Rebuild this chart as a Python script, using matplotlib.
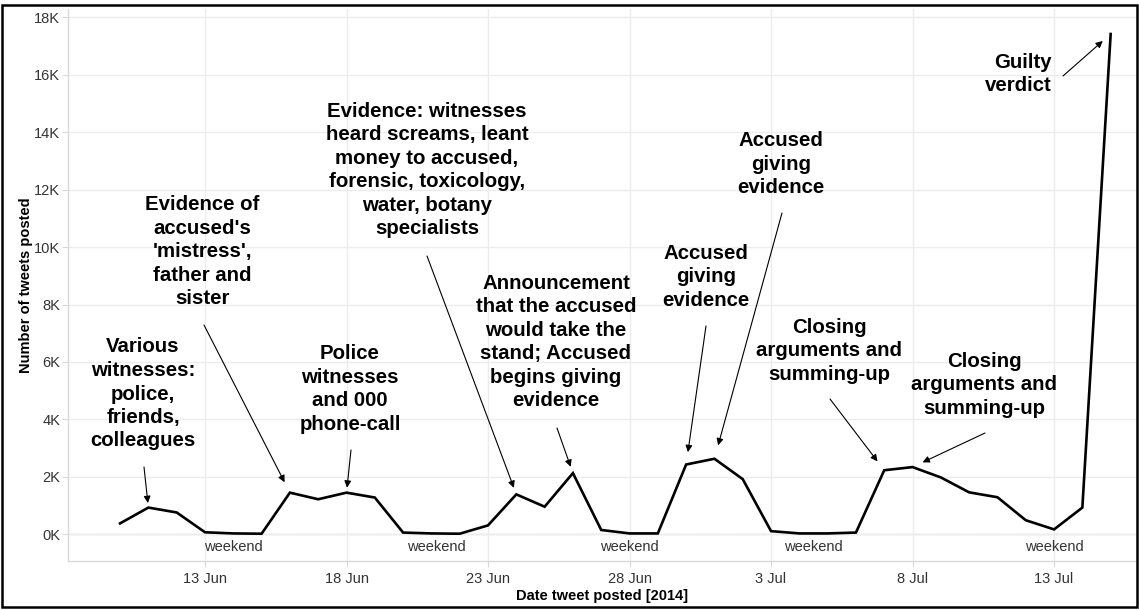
import numpy as np
import pandas as pd
import matplotlib
matplotlib.use('Agg')
import matplotlib.pyplot as plt
import matplotlib.dates as mdates
from matplotlib.patches import Rectangle
from matplotlib.ticker import FuncFormatter, MultipleLocator

plt.rcParams['font.family'] = ['Liberation Sans', 'DejaVu Sans']

# daily tweet counts, 10 Jun 2014 - 15 Jul 2014
start_date = '2014-06-10'
tweets = [380, 930, 760, 70, 30, 20, 1450, 1220, 1450, 1280,
          60, 30, 20, 310, 1390, 960, 2130, 150, 30, 30,
          2430, 2630, 1920, 110, 30, 30, 60, 2230, 2340, 1980,
          1460, 1290, 490, 170, 930, 17420]
dates = pd.date_range(start_date, periods=len(tweets), freq='D')

tick_dates = pd.date_range('2014-06-13', '2014-07-13', freq='5D')
tick_labels = [f"{d.day} {d.strftime('%b')}" for d in tick_dates]

weekend_dates = pd.to_datetime(['2014-06-14 00:00', '2014-06-21 04:00', '2014-06-28 00:00',
                                '2014-07-04 12:00', '2014-07-13 00:00'])

# (text, text centre in px, arrow start in px, target date, gap in pt)
notes = [
    ("Various\nwitnesses:\npolice,\nfriends,\ncolleagues", (143, 394), (144, 467), '2014-06-11', 3.3),
    ("Evidence of\naccused's\n'mistress',\nfather and\nsister", (202, 252), (204, 325), '2014-06-16', 8.4),
    ("Police\nwitnesses\nand 000\nphone-call", (350, 389), (351, 450), '2014-06-18', 3.6),
    ("Evidence: witnesses\nheard screams, leant\nmoney to accused,\nforensic, toxicology,\nwater, botany\nspecialists",
     (427, 170), (427, 256), '2014-06-24', 5),
    ("Announcement\nthat the accused\nwould take the\nstand; Accused\nbegins giving\nevidence",
     (556, 342), (557, 428), '2014-06-26', 4.8),
    ("Accused\ngiving\nevidence", (706, 277), (706, 326), '2014-06-30', 9),
    ("Accused\ngiving\nevidence", (781, 164), (782, 213), '2014-07-01', 10),
    ("Closing\narguments and\nsumming-up", (829, 351), (830, 399), '2014-07-07', 8),
    ("Closing\narguments and\nsumming-up", (984, 385), (985, 433), '2014-07-08', 8),
]
verdict_note = ("Guilty\nverdict", (1052, 74), (1063, 76), '2014-07-15', 7.6)

W, H = 1139, 610
fig = plt.figure(figsize=(W / 100, H / 100), dpi=100)
ax = fig.add_axes([68 / W, 49 / H, (1137 - 68) / W, (561 - 9) / H])

ax.plot(dates, tweets, color='black', lw=1.9, zorder=3, solid_joinstyle='miter')

ax.set_xlim(pd.Timestamp('2014-06-08 03:50'), pd.Timestamp('2014-07-15 22:20'))
ax.set_ylim(-930, 18290)
ax.set_xticks(tick_dates)
ax.set_xticklabels(tick_labels)
ax.yaxis.set_major_locator(MultipleLocator(2000))
ax.yaxis.set_major_formatter(FuncFormatter(lambda v, p: f'{v / 1000:.0f}K'))

ax.grid(True, color='#ececec', lw=1, zorder=0)
ax.axhline(0, color='#9a9a9a', lw=0.9, ls=(0, (1, 1)), zorder=1)
for side in ['top', 'right']:
    ax.spines[side].set_visible(False)
for side in ['left', 'bottom']:
    ax.spines[side].set_color('#d9d9d9')
    ax.spines[side].set_linewidth(1)
ax.tick_params(axis='both', colors='#d9d9d9', labelcolor='#333333', labelsize=10.5, length=4)
ax.tick_params(axis='y', pad=1.5)
ax.tick_params(axis='x', pad=4)

ax.set_ylabel('Number of tweets posted', fontsize=10.5, fontweight='bold')
ax.yaxis.set_label_coords(-0.0327, 0.5)
ax.set_xlabel('Date tweet posted [2014]', fontsize=10.5, fontweight='bold')
ax.xaxis.set_label_coords(0.5, -0.05)

for d in weekend_dates:
    ax.text(d, -440, 'weekend', ha='center', va='center', fontsize=10.5, color='#333333')

arrow = dict(arrowstyle='-|>', color='black', lw=0.8, mutation_scale=10, shrinkA=0)
for text, (tx, ty), (ax0, ay0), target, gap in notes + [verdict_note]:
    t = pd.Timestamp(target)
    val = tweets[dates.get_loc(t)]
    ax.annotate('', xy=(t, val), xycoords='data', xytext=(ax0, H - ay0), textcoords='figure pixels',
                arrowprops=dict(arrow, shrinkB=gap))

for text, (tx, ty), _, _, _ in notes:
    fig.text(tx / W, 1 - ty / H, text, ha='center', va='center', multialignment='center',
             fontsize=14.7, fontweight='bold', linespacing=1.3)
vt, (vx, vy) = verdict_note[0], verdict_note[1]
fig.text(vx / W, 1 - vy / H, vt, ha='right', va='center', multialignment='right',
         fontsize=14.7, fontweight='bold', linespacing=1.3)

fig.patches.append(Rectangle((2 / W, 3 / H), 1135 / W, 602 / H, transform=fig.transFigure,
                             fill=False, edgecolor='black', lw=1.8, zorder=10))

fig.savefig('out.png', dpi=100)
